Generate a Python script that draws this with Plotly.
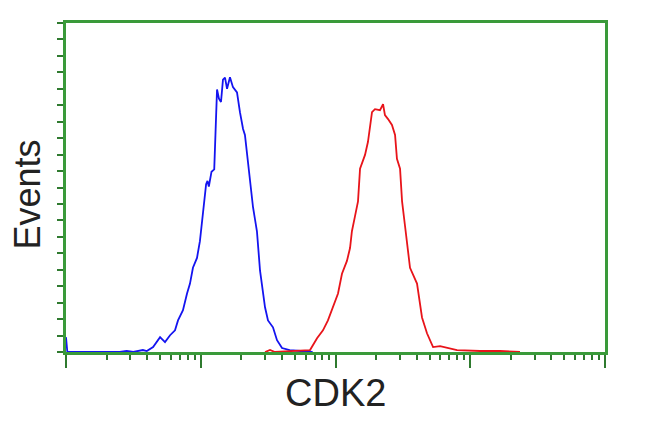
import plotly.graph_objects as go

# Fluorescence intensity (log scale) and event counts
blue_x = [1.0, 1.023, 2.51, 2.82, 3.16, 3.72, 3.98, 4.43, 4.99, 5.43, 5.92, 6.44, 6.78, 7.38,
          7.91, 8.32, 8.75, 9.38, 9.86, 10.23, 10.57, 10.96, 11.22, 11.48, 12.02, 12.59, 12.88,
          13.21, 13.65, 14.13, 14.62, 15.14, 15.67, 16.48, 17.34, 18.58, 19.54, 20.61, 21.28,
          22.44, 23.17, 24.43, 26.12, 27.54, 29.99, 31.55, 34.36, 36.81, 40.09, 45.71, 54.95, 67.61]
blue_y = [4.5, 0, 0, 0.3, 0, 0.6, 0.3, 1.5, 4.5, 3.0, 5.1, 6.6, 9.6, 12.7,
          17.8, 20.8, 25.6, 28.6, 33.7, 40.0, 44.0, 51.0, 52.0, 50.3, 54.8, 55.5, 67.0,
          79.8, 77.0, 76.0, 82.8, 83.4, 80.0, 83.5, 80.5, 78.9, 72.9, 67.8, 66.0,
          57.8, 51.8, 44.0, 36.7, 24.7, 13.6, 9.6, 7.5, 3.6, 1.2, 0.6, 0.3, 0]

red_x = [29.99, 32.66, 35.56, 45.92, 54.58, 64.71, 72.95, 80.72, 87.90, 95.71, 104.4, 111.7,
         121.6, 128.2, 132.4, 139.6, 146.9, 152.1, 165.6, 174.2, 180.3, 186.6, 196.3, 213.8,
         225.4, 232.8, 245.5, 262.4, 276.7, 285.8, 301.3, 311.9, 328.1, 339.6, 357.3, 402.7,
         438.5, 477.5, 529.7, 597.0, 707.9, 798.0, 1180, 1663, 2339]
red_y = [0, 0.6, 0, 0.3, 0.6, 0.6, 4.2, 6.6, 9.6, 13.6, 17.8, 23.8,
         27.7, 31.6, 36.7, 41.3, 45.8, 55.7, 59.9, 63.9, 69.0, 72.9, 73.8, 73.5,
         75.3, 72.0, 70.8, 69.0, 66.0, 58.7, 55.7, 45.8, 38.3, 33.7, 25.6, 20.8,
         10.5, 5.7, 1.5, 1.8, 1.2, 0.6, 0.3, 0.3, 0]

x_major = [1, 10, 100, 1000, 10000]
x_minor = [m * d for d in [1, 10, 100, 1000] for m in range(2, 10)]

GREEN = "#3a9a3a"
DARK_GREEN = "#2f7a2f"

fig = go.Figure()
fig.add_trace(go.Scatter(x=blue_x, y=blue_y, mode="lines",
                         line=dict(color="#1414f0", width=1.8), showlegend=False))
fig.add_trace(go.Scatter(x=red_x, y=red_y, mode="lines",
                         line=dict(color="#e8141a", width=1.8), showlegend=False))

fig.update_layout(
    width=642, height=424,
    margin=dict(l=58, r=45, t=12, b=80),
    paper_bgcolor="white", plot_bgcolor="white",
    font=dict(family="Liberation Sans, Arial", color="#222222"),
    xaxis=dict(
        type="log", range=[0, 4],
        tickmode="array", tickvals=x_major, ticktext=[""] * len(x_major),
        ticks="outside", ticklen=13, tickwidth=2, tickcolor=DARK_GREEN,
        minor=dict(tickmode="array", tickvals=x_minor, ticks="outside",
                   ticklen=5, tickwidth=2, tickcolor=DARK_GREEN, showgrid=False),
        showgrid=False, zeroline=False,
        showline=True, linecolor=GREEN, linewidth=2.5, mirror=True,
        layer="below traces",
    ),
    yaxis=dict(
        range=[0, 100], tickmode="linear", tick0=0, dtick=5,
        showticklabels=False,
        ticks="outside", ticklen=6, tickwidth=2, tickcolor=DARK_GREEN,
        showgrid=False, zeroline=False,
        showline=True, linecolor=GREEN, linewidth=2.5, mirror=True,
        layer="below traces",
    ),
    annotations=[
        dict(text="CDK2", x=0.5, y=0, xref="paper", yref="paper",
             xanchor="center", yanchor="middle", yshift=-41, showarrow=False,
             font=dict(size=38, color="#222222")),
        dict(text="Events", x=0, y=0.5, xref="paper", yref="paper",
             xanchor="center", yanchor="middle", xshift=-39, yshift=-7, textangle=-90,
             showarrow=False, borderpad=0, font=dict(size=36, color="#222222")),
    ],
)

fig.write_html("out.html")
